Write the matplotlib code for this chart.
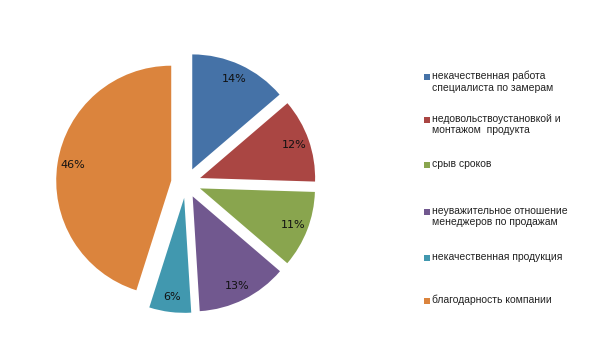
import matplotlib
matplotlib.use("Agg")
import matplotlib.pyplot as plt
from matplotlib.patches import Rectangle

categories = [
    "некачественная работа\nспециалиста по замерам",
    "недовольствоустановкой и\nмонтажом  продукта",
    "срыв сроков",
    "неуважительное отношение\nменеджеров по продажам",
    "некачественная продукция",
    "благодарность компании",
]
values = [14, 12, 11, 13, 6, 46]
pct_labels = ["14%", "12%", "11%", "13%", "6%", "46%"]
colors = ["#4572A7", "#AA4643", "#89A54E", "#71588F", "#4198AF", "#DB843D"]

W, H = 594, 354
plt.rcParams['font.family'] = ['Liberation Sans', 'DejaVu Sans']
fig = plt.figure(figsize=(W / 100, H / 100), dpi=100)

r_px = 115
cx, cy = 186, 183
span = 1.22
aw = 2 * span * r_px
ax = fig.add_axes([(cx - aw / 2) / W, (H - cy - aw / 2) / H, aw / W, aw / H])
wedges, texts = ax.pie(values, colors=colors, startangle=90, counterclock=False,
                       explode=[0.13] * len(values), labels=pct_labels,
                       labeldistance=0.87,
                       textprops=dict(fontsize=8, color="#111111", ha="center", va="center",
                                      family=['DejaVu Sans']))
ax.set_xlim(-span, span)
ax.set_ylim(-span, span)
ax.set_aspect("equal")
ax.axis("off")

# legend drawn manually
leg_y = [77, 120, 165, 212, 258, 301]
for yy, lab, c in zip(leg_y, categories, colors):
    fig.patches.append(Rectangle((424 / W, (H - yy - 3) / H), 6 / W, 6 / H,
                                 transform=fig.transFigure, facecolor=c, edgecolor="none"))
    fig.text(432 / W, (H - yy + 6) / H, lab, fontsize=7.5, color="#222222",
             ha="left", va="top", linespacing=1.15)

fig.savefig("out.png", dpi=100)
